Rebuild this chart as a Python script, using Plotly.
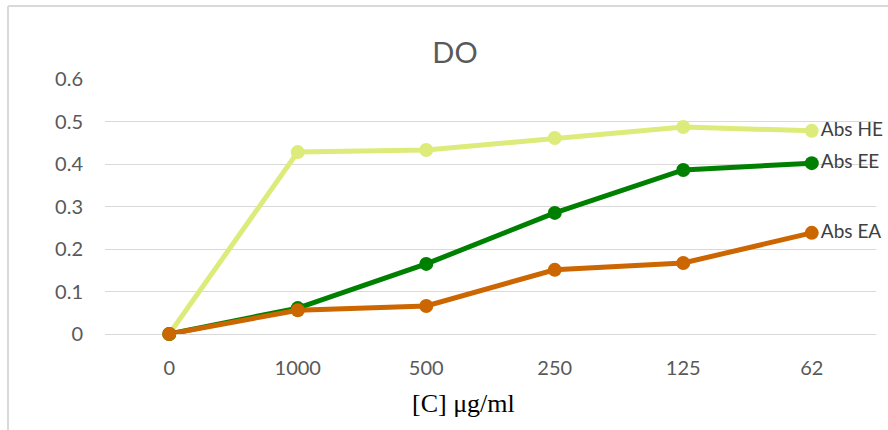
import plotly.graph_objects as go

categories = ["0", "1000", "500", "250", "125", "62"]
abs_he = [0.0, 0.428, 0.433, 0.461, 0.487, 0.478]
abs_ee = [0.0, 0.061, 0.165, 0.285, 0.386, 0.402]
abs_ea = [0.0, 0.056, 0.066, 0.151, 0.167, 0.238]
series_names = ["Abs HE", "Abs EE", "Abs EA"]
colors = ["#DDEB7A", "#008000", "#CC6600"]
y_ticks = [0, 0.1, 0.2, 0.3, 0.4, 0.5, 0.6]
y_tick_text = ["0", "0.1", "0.2", "0.3", "0.4", "0.5", "0.6"]
x_title = "[C] μg/ml"
chart_title = "DO"

W, H = 888, 430
L, R, T, B = 105, 12, 79, 96
FONT = "Lato, Open Sans, sans-serif"

fig = go.Figure()
for name, vals, col in zip(series_names, [abs_he, abs_ee, abs_ea], colors):
    fig.add_trace(go.Scatter(
        x=categories, y=vals, mode="lines+markers", name=name,
        line=dict(color=col, width=5),
        marker=dict(color=col, size=14),
        cliponaxis=False, showlegend=False,
    ))
for name, vals in zip(series_names, [abs_he, abs_ee, abs_ea]):
    fig.add_trace(go.Scatter(
        x=[categories[-1]], y=[vals[-1]], mode="text",
        text=["  " + name], textposition="middle right",
        textfont=dict(family=FONT, size=19, color="#404040"),
        cliponaxis=False, showlegend=False, hoverinfo="skip",
    ))

pw, ph = W - L - R, H - T - B
px = lambda p: (p - L) / pw
py = lambda p: (H - B - p) / ph

fig.add_shape(type="line", xref="paper", yref="paper", x0=px(8), x1=px(8), y0=py(6), y1=py(440),
              line=dict(color="#D9D9D9", width=2))
fig.add_shape(type="line", xref="paper", yref="paper", x0=px(8), x1=px(900), y0=py(6), y1=py(6),
              line=dict(color="#D9D9D9", width=2))

fig.add_annotation(
    x=px(463), y=py(403), xref="paper", yref="paper", text=x_title, showarrow=False,
    xanchor="center", yanchor="middle",
    font=dict(family="Liberation Serif, Times New Roman, serif", size=26, color="#000000"),
)

fig.update_layout(
    width=W, height=H,
    margin=dict(l=L, r=R, t=T, b=B),
    paper_bgcolor="white", plot_bgcolor="white",
    title=dict(text=chart_title, x=455 / W, xanchor="center", y=1 - 53 / H, yanchor="middle",
               font=dict(family=FONT, size=29, color="#595959")),
    xaxis=dict(
        type="category", categoryorder="array", categoryarray=categories,
        range=[-0.5, 5.5], showgrid=False, showline=False, zeroline=False, ticks="",
        tickfont=dict(family=FONT, size=20, color="#595959"),
        ticklabelstandoff=20,
    ),
    yaxis=dict(
        range=[0, 0.6], tickvals=y_ticks, ticktext=y_tick_text,
        showgrid=True, gridcolor="#D9D9D9", gridwidth=1,
        zeroline=True, zerolinecolor="#D9D9D9", zerolinewidth=1, showline=False, ticks="",
        tickfont=dict(family=FONT, size=20, color="#595959"),
        ticklabelstandoff=21,
    ),
)

fig.write_html("out.html")
